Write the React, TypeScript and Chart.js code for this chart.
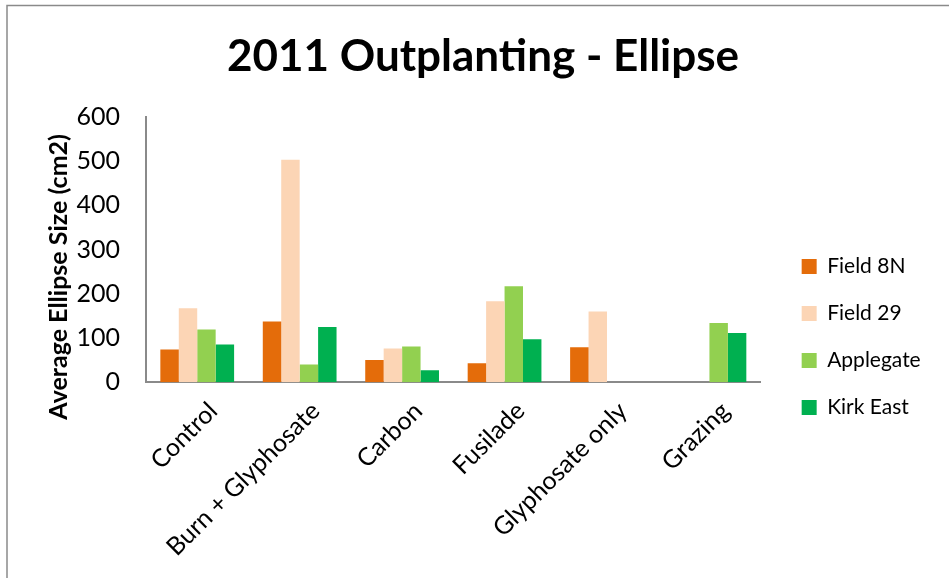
import React, { useEffect, useRef } from "react";
import { Chart, registerables } from "chart.js";

Chart.register(...registerables);

const categories = ["Control", "Burn + Glyphosate", "Carbon", "Fusilade", "Glyphosate only", "Grazing"];
const seriesNames = ["Field 8N", "Field 29", "Applegate", "Kirk East"];
const field8N = [74, 137, 50, 43, 79, null];
const field29 = [167, 503, 76, 183, 160, null];
const applegate = [119, 40, 81, 217, null, 134];
const kirkEast = [85, 125, 27, 97, null, 111];
const seriesColors = ["#E46C0A", "#FCD5B5", "#92D050", "#00B050"];
const yMin = 0;
const yMax = 600;
const yStep = 100;
const yTitle = "Average Ellipse Size (cm2)";

const FONT = "Lato, 'Open Sans', sans-serif";

const framePlugin = {
  id: "frame",
  beforeDraw(chart: any) {
    const ctx = chart.ctx;
    ctx.save();
    ctx.strokeStyle = "#8a8a8a";
    ctx.lineWidth = 1.5;
    ctx.beginPath();
    ctx.moveTo(7, 1000);
    ctx.lineTo(7, 5.5);
    ctx.lineTo(2000, 5.5);
    ctx.stroke();
    ctx.restore();
  },
};

export default function App() {
  const ref = useRef<HTMLCanvasElement | null>(null);
  useEffect(() => {
    document.body.style.margin = "0";
    document.body.style.overflow = "hidden";
    const seriesData = [field8N, field29, applegate, kirkEast];
    const chart = new Chart(ref.current as HTMLCanvasElement, {
      type: "bar",
      data: {
        labels: categories,
        datasets: seriesNames.map((name, i) => ({
          label: name,
          data: seriesData[i] as any,
          backgroundColor: seriesColors[i],
          borderWidth: 0,
          barPercentage: 1,
          categoryPercentage: 0.72,
        })),
      },
      options: {
        responsive: false,
        animation: false,
        layout: { padding: { top: 10, left: 44, right: 27, bottom: 2 } },
        plugins: {
          title: {
            display: true,
            text: "2011 Outplanting - Ellipse",
            color: "#000",
            font: { family: FONT, size: 44, weight: "bold" },
            padding: { top: 20, bottom: 34 },
          },
          legend: {
            position: "right",
            title: {
              display: true,
              text: " ",
              font: { family: FONT, size: 10 },
              padding: 38,
            },
            labels: {
              color: "#000",
              font: { family: FONT, size: 21 },
              boxWidth: 15,
              boxHeight: 15,
              padding: 26,
            },
          },
          tooltip: { enabled: false },
        },
        scales: {
          x: {
            grid: { display: false, drawTicks: false },
            border: { color: "#8a8a8a", width: 2 },
            ticks: {
              color: "#000",
              font: { family: FONT, size: 25 },
              maxRotation: 45,
              minRotation: 45,
              padding: 14,
              labelOffset: 16,
            },
            afterFit: (s: any) => {
              s.paddingLeft = 0;
              s.paddingRight = 0;
            },
          },
          y: {
            min: yMin,
            max: yMax,
            grid: { display: false, drawTicks: false },
            border: { color: "#8a8a8a", width: 2 },
            ticks: {
              stepSize: yStep,
              color: "#000",
              font: { family: FONT, size: 25 },
              padding: 26,
            },
            title: {
              display: true,
              text: yTitle + "         ",
              color: "#000",
              font: { family: FONT, size: 25, weight: "bold" },
              padding: { top: 0, bottom: 6 },
            },
            afterFit: (s: any) => {
              s.width = 102;
            },
          },
          gap: {
            type: "linear",
            position: "right",
            display: true,
            grid: { display: false, drawTicks: false },
            border: { display: false },
            ticks: { display: false },
            afterFit: (s: any) => {
              s.width = 15;
            },
          } as any,
        },
      },
      plugins: [framePlugin],
    });
    return () => chart.destroy();
  }, []);
  return (
    <div style={{ position: "fixed", left: 0, top: 0, width: 949, height: 578, background: "#fff" }}>
      <canvas ref={ref} width={949} height={578} style={{ display: "block" }} />
    </div>
  );
}
